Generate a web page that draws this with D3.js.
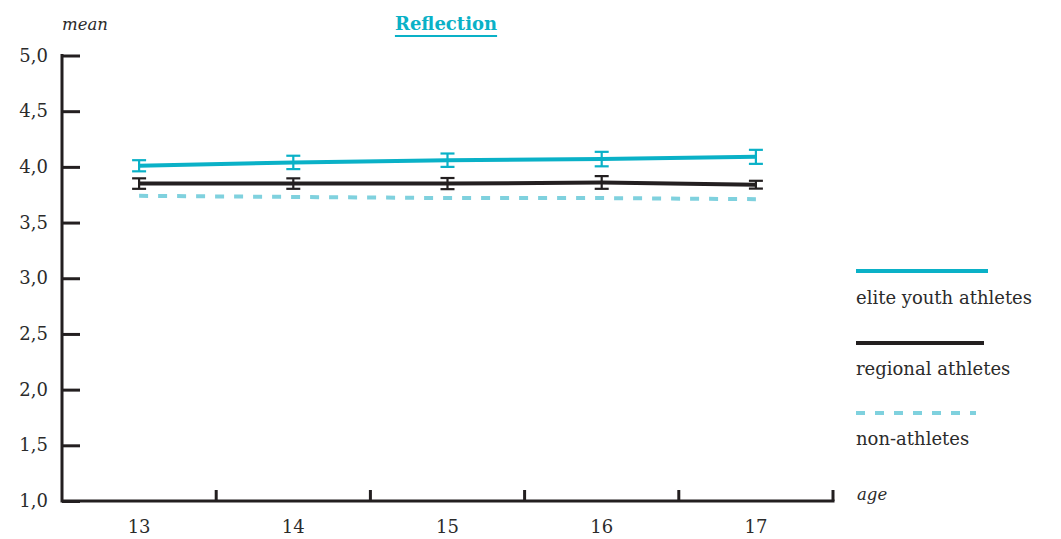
<!DOCTYPE html>
<html>
<head>
<meta charset="utf-8">
<script src="https://cdn.jsdelivr.net/npm/d3@7"></script>
<style>
  body { margin: 0; background: #fff; }
  svg { display: block; }
  text { font-family: "DejaVu Serif", serif; fill: #2b2b2b; }
</style>
</head>
<body>
<svg id="chart" width="1061" height="539"></svg>
<script>
// Mean "Reflection" score by age for three groups
const ages = ["13", "14", "15", "16", "17"];
const eliteMean = [4.01, 4.04, 4.06, 4.07, 4.09];
const eliteErr = [0.05, 0.06, 0.06, 0.065, 0.063];
const regionalMean = [3.85, 3.85, 3.85, 3.86, 3.84];
const regionalErr = [0.047, 0.047, 0.05, 0.057, 0.035];
const nonAthleteMean = [3.74, 3.73, 3.72, 3.72, 3.71];
const yTicks = [1.0, 1.5, 2.0, 2.5, 3.0, 3.5, 4.0, 4.5, 5.0];
const seriesNames = ["elite youth athletes", "regional athletes", "non-athletes"];

const teal = "#0ab1c7", dark = "#231f20", light = "#7fd1de", axisCol = "#231f20";

const svg = d3.select("#chart");
const plotLeft = 62, plotRight = 833, plotTop = 55.5, plotBottom = 501;

const x = d3.scaleBand().domain(ages).range([plotLeft, plotRight]);
const y = d3.scaleLinear().domain([1, 5]).range([plotBottom, plotTop]);

// y axis
const yAxis = d3.axisRight(y).tickValues(yTicks).tickSize(18).tickFormat(() => "");
const gy = svg.append("g").attr("transform", `translate(${plotLeft},0)`).call(yAxis);
gy.select(".domain").remove();
gy.selectAll(".tick line").attr("stroke", axisCol).attr("stroke-width", 3);
svg.append("line").attr("x1", plotLeft).attr("x2", plotLeft)
  .attr("y1", y(5) - 1.5).attr("y2", plotBottom + 1.5)
  .attr("stroke", axisCol).attr("stroke-width", 3);
svg.selectAll(".ylab").data(yTicks).enter().append("text")
  .attr("class", "ylab")
  .attr("x", 48).attr("y", d => y(d) + 6)
  .attr("text-anchor", "end").attr("font-size", 18)
  .text(d => d3.format(".1f")(d).replace(".", ","));

// x axis: ticks on band boundaries pointing upward
const boundaries = ages.map(a => x(a)).concat([plotRight]).slice(1);
svg.append("line").attr("x1", plotLeft).attr("x2", plotRight + 1.5)
  .attr("y1", plotBottom).attr("y2", plotBottom)
  .attr("stroke", axisCol).attr("stroke-width", 3);
svg.selectAll(".xtick").data(boundaries).enter().append("line")
  .attr("x1", d => d).attr("x2", d => d)
  .attr("y1", plotBottom).attr("y2", plotBottom - 11)
  .attr("stroke", axisCol).attr("stroke-width", 3);
svg.selectAll(".xlab").data(ages).enter().append("text")
  .attr("x", d => x(d) + x.bandwidth() / 2).attr("y", 533)
  .attr("text-anchor", "middle").attr("font-size", 18)
  .text(d => d);

// axis titles
svg.append("text").attr("x", 62).attr("y", 30).attr("font-style", "italic")
  .attr("font-size", 16.5).text("mean");
svg.append("text").attr("x", 857).attr("y", 500).attr("font-style", "italic")
  .attr("font-size", 16.5).text("age");

// title
const title = svg.append("text").attr("x", 446).attr("y", 30)
  .attr("text-anchor", "middle").attr("font-size", 18).attr("font-weight", "bold")
  .style("fill", teal).text("Reflection");
const tb = title.node().getBBox();
svg.append("line").attr("x1", tb.x).attr("x2", tb.x + tb.width)
  .attr("y1", 36).attr("y2", 36).attr("stroke", teal).attr("stroke-width", 2);

const cx = a => x(a) + x.bandwidth() / 2;
const line = vals => d3.line().x((d, i) => cx(ages[i])).y(d => y(d))(vals);

// non-athletes (dashed)
svg.append("path").attr("d", line(nonAthleteMean)).attr("fill", "none")
  .attr("stroke", light).attr("stroke-width", 4).attr("stroke-dasharray", "9,10");

function errorBars(means, errs, col) {
  const g = svg.append("g");
  means.forEach((m, i) => {
    const xc = cx(ages[i]);
    g.append("line").attr("x1", xc).attr("x2", xc)
      .attr("y1", y(m + errs[i])).attr("y2", y(m - errs[i]))
      .attr("stroke", col).attr("stroke-width", 2.2);
    [m + errs[i], m - errs[i]].forEach(v => {
      g.append("line").attr("x1", xc - 7).attr("x2", xc + 7)
        .attr("y1", y(v)).attr("y2", y(v))
        .attr("stroke", col).attr("stroke-width", 2.2);
    });
  });
}

// regional athletes
svg.append("path").attr("d", line(regionalMean)).attr("fill", "none")
  .attr("stroke", dark).attr("stroke-width", 4);
errorBars(regionalMean, regionalErr, dark);

// elite youth athletes
svg.append("path").attr("d", line(eliteMean)).attr("fill", "none")
  .attr("stroke", teal).attr("stroke-width", 4);
errorBars(eliteMean, eliteErr, teal);

// legend
const legend = [
  { name: seriesNames[0], col: teal, dash: null, ly: 271, len: 132, ty: 304 },
  { name: seriesNames[1], col: dark, dash: null, ly: 343, len: 128, ty: 375 },
  { name: seriesNames[2], col: light, dash: "9,10", ly: 413, len: 120, ty: 445 }
];
legend.forEach(l => {
  svg.append("line").attr("x1", 856).attr("x2", 856 + l.len)
    .attr("y1", l.ly).attr("y2", l.ly)
    .attr("stroke", l.col).attr("stroke-width", 4)
    .attr("stroke-dasharray", l.dash);
  svg.append("text").attr("x", 856).attr("y", l.ty).attr("font-size", 18).text(l.name);
});
</script>
</body>
</html>
